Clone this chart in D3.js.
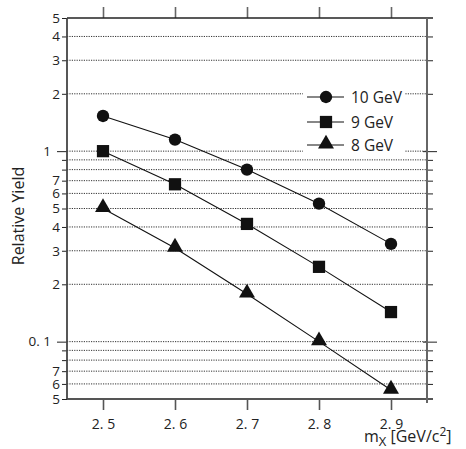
<!DOCTYPE html>
<html><head><meta charset="utf-8">
<script src="https://cdn.jsdelivr.net/npm/d3@7"></script>
<style>body{margin:0;background:#fff}svg{display:block}text{font-family:"Open Sans","DejaVu Sans",sans-serif;fill:#222}</style>
</head><body><svg id="c" width="466" height="449"></svg>
<script>
const masses = [2.5, 2.6, 2.7, 2.8, 2.9];
const series = ["10 GeV", "9 GeV", "8 GeV"];
const yield10 = [1.53, 1.15, 0.80, 0.53, 0.326];
const yield9 = [1.0, 0.67, 0.415, 0.247, 0.143];
const yield8 = [0.50, 0.31, 0.178, 0.10, 0.0557];
const xTicks = [2.5, 2.6, 2.7, 2.8, 2.9];
const xTickLabels = ["2. 5", "2. 6", "2. 7", "2. 8", "2. 9"];
const yTicks = [5, 4, 3, 2, 1, 0.9, 0.8, 0.7, 0.6, 0.5, 0.4, 0.3, 0.2, 0.1, 0.09, 0.08, 0.07, 0.06, 0.05];
const yTickLabels = ["5", "4", "3", "2", "1", "", "", "7", "6", "5", "4", "3", "2", "0. 1", "", "", "7", "6", "5"];
const yMajor = [1, 0.1];

const svg = d3.select("#c");
const L = 67, R = 427, T = 18, B = 399;
const x = d3.scaleLinear().domain([2.45, 2.95]).range([L, R]);
const y = d3.scaleLog().domain([0.05, 5]).range([B, T]);
const isMajor = v => yMajor.some(m => Math.abs(m - v) < 1e-9);

// gridlines
svg.append("g").selectAll("line").data(yTicks.filter(v => v !== 5 && v !== 0.05)).join("line")
  .attr("x1", L).attr("x2", R).attr("y1", d => y(d)).attr("y2", d => y(d))
  .attr("stroke", "#333").attr("stroke-width", 1).attr("stroke-dasharray", "1.2,1.2");

// legend background
svg.append("rect").attr("x", 303).attr("y", 84).attr("width", 102).attr("height", 72).attr("fill", "#fff");

// axes
const fmtY = v => yTickLabels[yTicks.findIndex(t => Math.abs(t - v) < 1e-9)];
const gl = svg.append("g").attr("transform", `translate(${L},0)`)
  .call(d3.axisLeft(y).tickValues(yTicks).tickFormat(fmtY).tickSizeOuter(0));
gl.selectAll(".tick line").attr("x2", d => isMajor(d) ? -10 : -5).attr("stroke", "#222");
gl.selectAll(".tick text").attr("x", d => isMajor(d) ? -16 : -7).attr("font-size", 13.5)
  .attr("font-family", "\"Open Sans\",sans-serif").attr("fill", "#222");
gl.select(".domain").remove();

const gr = svg.append("g").attr("transform", `translate(${R},0)`)
  .call(d3.axisRight(y).tickValues(yTicks.filter(v => v !== 5 && v !== 0.05)).tickFormat("").tickSizeOuter(0));
gr.selectAll(".tick line").attr("x1", d => isMajor(d) ? -4 : 0).attr("x2", d => isMajor(d) ? 10 : 6).attr("stroke", "#222");
gr.select(".domain").remove();

const gb = svg.append("g").attr("transform", `translate(0,${B})`)
  .call(d3.axisBottom(x).tickValues(xTicks).tickFormat((d, i) => xTickLabels[i]).tickSize(11).tickSizeOuter(0));
gb.selectAll(".tick line").attr("stroke", "#555").attr("stroke-width", 1.6);
gb.selectAll(".tick text").attr("y", 20).attr("font-size", 14).attr("fill", "#222")
  .attr("font-family", "\"Open Sans\",sans-serif");
gb.select(".domain").remove();

const gt = svg.append("g").attr("transform", `translate(0,${T})`)
  .call(d3.axisTop(x).tickValues(xTicks).tickFormat("").tickSize(11).tickSizeOuter(0));
gt.selectAll(".tick line").attr("stroke", "#666").attr("stroke-width", 1.6);
gt.select(".domain").remove();

// frame
svg.append("line").attr("x1", L).attr("x2", R + 6).attr("y1", T).attr("y2", T).attr("stroke", "#222").attr("stroke-width", 1.5);
svg.append("line").attr("x1", L).attr("x2", R + 6).attr("y1", B).attr("y2", B).attr("stroke", "#555").attr("stroke-width", 2);
svg.append("line").attr("x1", L).attr("x2", L).attr("y1", T).attr("y2", B).attr("stroke", "#444").attr("stroke-width", 1.8);
svg.append("line").attr("x1", R).attr("x2", R).attr("y1", T).attr("y2", B + 4).attr("stroke", "#666").attr("stroke-width", 2);

// series
const data = [yield10, yield9, yield8];
const shapes = [d3.symbolCircle, d3.symbolSquare, d3.symbolTriangle];
const sizes = [120, 150, 110];
const line = d3.line().x((d, i) => x(masses[i])).y(d => y(d));
data.forEach((vals, k) => {
  svg.append("path").attr("d", line(vals)).attr("fill", "none").attr("stroke", "#111").attr("stroke-width", 1.1);
  svg.append("g").selectAll("path").data(vals).join("path")
    .attr("transform", (d, i) => `translate(${x(masses[i])},${y(d) + (k === 2 ? -1 : 0)})`)
    .attr("d", d3.symbol().type(shapes[k]).size(sizes[k])).attr("fill", "#111");
});

// legend
const ly = [97, 122, 145];
series.forEach((s, k) => {
  svg.append("line").attr("x1", 307).attr("x2", 344).attr("y1", ly[k]).attr("y2", ly[k]).attr("stroke", "#111").attr("stroke-width", 1.1);
  svg.append("path").attr("transform", `translate(326,${ly[k] + (k === 2 ? -1 : 0)})`)
    .attr("d", d3.symbol().type(shapes[k]).size(sizes[k])).attr("fill", "#111");
  svg.append("text").attr("x", 351).attr("y", ly[k]).attr("dy", "0.36em").attr("font-size", 15.5).text(s);
});

// axis titles
svg.append("text").attr("transform", "translate(24,216) rotate(-90)").attr("text-anchor", "middle")
  .attr("font-size", 16).text("Relative Yield");
const xt = svg.append("text").attr("x", 364).attr("y", 442).attr("font-size", 16);
xt.append("tspan").text("m");
xt.append("tspan").attr("dy", 4).attr("font-size", 13).text("X");
xt.append("tspan").attr("dy", -4).text(" [GeV/c");
xt.append("tspan").attr("dy", -6).attr("font-size", 12).text("2");
xt.append("tspan").attr("dy", 6).text("]");
</script></body></html>
